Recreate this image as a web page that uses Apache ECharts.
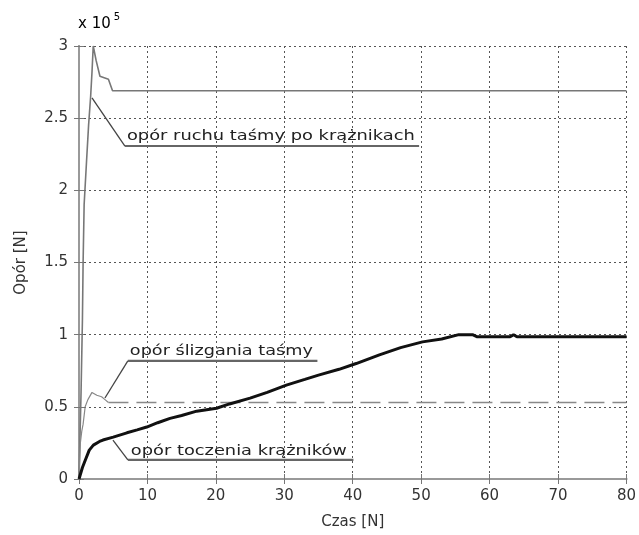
<!DOCTYPE html>
<html>
<head>
<meta charset="utf-8">
<script src="https://cdn.jsdelivr.net/npm/echarts@6/dist/echarts.min.js"></script>
<style>html,body{margin:0;padding:0;background:#fff;}#c{width:639px;height:535px;}</style>
</head>
<body>
<div id="c"></div>
<script>
// ---- data (values in units of 10^5 N) ----
const xTicks = [0, 10, 20, 30, 40, 50, 60, 70, 80];
const yTicks = [0, 0.5, 1, 1.5, 2, 2.5, 3];

// opór ruchu taśmy po krążnikach (thin grey line)
const ruchX = [0, 0.3, 0.5, 0.6, 0.75, 1.1, 1.4, 1.7, 1.9, 2.08, 2.5, 3.06, 4.3, 4.9, 80];
const ruchY = [0, 0.6, 1.1, 1.5, 1.9, 2.2, 2.45, 2.65, 2.82, 3.0, 2.9, 2.79, 2.77, 2.69, 2.69];

// opór ślizgania taśmy (rise + dashed steady level)
const slizgX = [0, 0.2, 0.4, 0.6, 0.9, 1.3, 1.9, 2.6, 3.3, 3.8, 4.3];
const slizgY = [0, 0.25, 0.33, 0.38, 0.5, 0.55, 0.6, 0.58, 0.57, 0.55, 0.53];
const slizgFlatX = [4.3, 80];
const slizgFlatY = [0.53, 0.53];

// opór toczenia krążników (thick black line)
const toczX = [0, 0.5, 1, 1.5, 2.1, 3, 3.5, 5, 7, 8.5, 9.9, 11.5, 13.3, 15, 17.2, 20.1, 22, 25, 27.5, 30.3, 33, 35, 38, 40.5, 43.9, 47, 50.2, 53, 55.5, 57.5, 58.2, 63, 63.5, 64, 80];
const toczY = [0, 0.08, 0.14, 0.2, 0.235, 0.26, 0.27, 0.29, 0.32, 0.34, 0.36, 0.39, 0.42, 0.44, 0.47, 0.49, 0.52, 0.56, 0.6, 0.65, 0.69, 0.72, 0.76, 0.80, 0.86, 0.91, 0.95, 0.97, 1.0, 1.0, 0.985, 0.985, 1.0, 0.985, 0.985];

// annotations: text, leader points (data coords), text anchor (data coords), target text width px
const annTexts = ['opór ruchu taśmy po krążnikach', 'opór ślizgania taśmy', 'opór toczenia krążników'];
const annLeaders = [
  [[1.9, 2.64], [6.71, 2.307], [49.7, 2.307]],
  [[3.79, 0.561], [7.14, 0.818], [34.84, 0.818]],
  [[4.96, 0.27], [7.14, 0.132], [40.1, 0.132]]
];
const annAnchors = [[7.0, 2.328], [7.43, 0.834], [7.58, 0.145]];
const annWidths = [288, 183, 216];

const zip = (xs, ys) => xs.map((x, i) => [x, ys[i]]);

const chart = echarts.init(document.getElementById('c'), null, {renderer: 'canvas'});
const FONT = 'DejaVu Sans';
const gridLine = {show: true, lineStyle: {color: '#555', type: [2, 3], width: 1}};
const option = {
  animation: false,
  backgroundColor: '#fff',
  grid: {left: 79, right: 11, top: 46, bottom: 56},
  xAxis: [{
    type: 'value', min: 0, max: 80, interval: 10,
    name: 'Czas [N]', nameLocation: 'middle', nameGap: 36,
    nameTextStyle: {fontFamily: FONT, fontSize: 15, color: '#333'},
    axisLine: {show: true, lineStyle: {color: '#999', width: 2}},
    axisTick: {show: true, inside: true, length: 5, lineStyle: {color: '#777'}},
    axisLabel: {fontFamily: FONT, fontSize: 15, color: '#333', margin: 10,
      formatter: v => xTicks.includes(v) ? String(v) : ''},
    splitLine: gridLine
  }, {
    type: 'value', min: 0, max: 80, interval: 10, position: 'top',
    axisLine: {show: true, lineStyle: {color: '#999', width: 2}},
    axisTick: {show: true, inside: true, length: 5, lineStyle: {color: '#777'}},
    axisLabel: {show: false}, splitLine: {show: false}
  }],
  yAxis: [{
    type: 'value', min: 0, max: 3, interval: 0.5,
    name: 'Opór [N]', nameLocation: 'middle', nameGap: 50, nameRotate: 90,
    nameTextStyle: {fontFamily: FONT, fontSize: 15, color: '#333'},
    axisLine: {show: true, lineStyle: {color: '#999', width: 2}},
    axisTick: {show: true, inside: true, length: 5, lineStyle: {color: '#777'}},
    axisLabel: {fontFamily: FONT, fontSize: 15, color: '#333', margin: 11,
      formatter: v => yTicks.includes(v) ? String(v) : ''},
    splitLine: gridLine
  }, {
    type: 'value', min: 0, max: 3, interval: 0.5, position: 'right',
    axisLine: {show: true, lineStyle: {color: '#999', width: 2}},
    axisTick: {show: true, inside: true, length: 5, lineStyle: {color: '#777'}},
    axisLabel: {show: false}, splitLine: {show: false}
  }],
  series: [
    {type: 'line', data: zip(ruchX, ruchY), showSymbol: false, symbol: 'none',
      lineStyle: {color: '#777', width: 1.6}, z: 3},
    {type: 'line', data: zip(slizgX, slizgY), showSymbol: false, symbol: 'none',
      lineStyle: {color: '#888', width: 1.2}, z: 3},
    {type: 'line', data: zip(slizgFlatX, slizgFlatY), showSymbol: false, symbol: 'none',
      lineStyle: {color: '#888', width: 1.4, type: [20, 8]}, z: 3},
    {type: 'line', data: zip(toczX, toczY), showSymbol: false, symbol: 'none',
      lineStyle: {color: '#111', width: 3}, z: 4}
  ]
};
chart.setOption(option);

// annotations drawn via the grid's coordinate conversion
const ctx = document.createElement('canvas').getContext('2d');
const annFontSize = 14;
ctx.font = annFontSize + 'px "' + FONT + '"';
const toPx = p => chart.convertToPixel({gridIndex: 0}, p);
const graphics = [];
annTexts.forEach((t, i) => {
  const pts = annLeaders[i].map(toPx);
  graphics.push({type: 'polyline', shape: {points: pts.slice(0, 2)}, style: {stroke: '#444', lineWidth: 1.3, fill: null}, z: 10});
  graphics.push({type: 'polyline', shape: {points: pts.slice(1)}, style: {stroke: '#666', lineWidth: 2.2, fill: null}, z: 10});
  const a = toPx(annAnchors[i]);
  const w = ctx.measureText(t).width;
  graphics.push({type: 'text', x: a[0], y: a[1], scaleX: annWidths[i] / w, z: 11,
    style: {text: t, font: annFontSize + 'px "' + FONT + '"', fill: '#222', verticalAlign: 'bottom', align: 'left'}});
});
// exponent label "x 10^5"
graphics.push({type: 'text', left: 78, top: 12, z: 11,
  style: {text: '{b|x 10}{s|5}', rich: {
    b: {fontFamily: FONT, fontSize: 15, color: '#333', verticalAlign: 'bottom'},
    s: {fontFamily: FONT, fontSize: 10, color: '#333', verticalAlign: 'top', padding: [0, 0, 10, 3]}
  }}});
chart.setOption({graphic: graphics});
</script>
</body>
</html>
